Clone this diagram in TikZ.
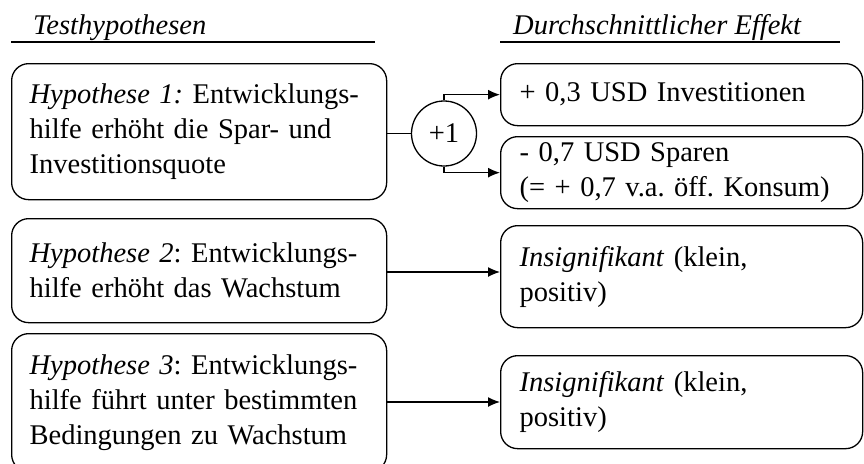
\documentclass[tikz,border=0pt]{standalone}
\usepackage{fontspec}
\setmainfont{Liberation Serif}
\usetikzlibrary{arrows.meta}
\frenchspacing
\tikzset{
  txt/.style={font=\fontsize{28.5}{35}\selectfont},
  lbox/.style={txt, draw, line width=1.3pt, rounded corners=17pt, anchor=north west,
    align=left, inner xsep=18pt, inner ysep=0pt, text width=339pt, minimum width=375pt},
  rbox/.style={txt, draw, line width=1.3pt, rounded corners=17pt, anchor=north west,
    align=left, inner xsep=19pt, inner ysep=0pt, text width=324pt, minimum width=362pt},
  conn/.style={line width=1.3pt},
  arr/.style={conn, -{Latex[length=12pt,width=10pt]}},
  head/.style={txt, anchor=base west, inner sep=0pt, font=\fontsize{28.5}{35}\selectfont\itshape},
}
\begin{document}
\begin{tikzpicture}[x=1pt,y=-1pt]
\useasboundingbox (0,0) rectangle (864,463);
% headers
\node[head] (h1) at (33,34) {Testhypothesen};
\node[head] (h2) at (513,34) {Durchschnittlicher Effekt};
\coordinate (l1a) at (11,42); \coordinate (l1b) at (375,42);
\coordinate (l2a) at (500,42); \coordinate (l2b) at (840,42);
\draw[conn] (l1a) -- (l1b);
\draw[conn] (l2a) -- (l2b);
% left boxes
\node[lbox, minimum height=136pt] (b1) at (11,63)
  {\mbox{\textit{Hypothese 1:} Entwicklungs-}\\\mbox{hilfe erhöht die Spar- und}\\\mbox{Investitionsquote}};
\node[lbox, minimum height=104pt] (b2) at (11,218)
  {\mbox{\textit{Hypothese 2}: Entwicklungs-}\\\mbox{hilfe erhöht das Wachstum}};
\node[lbox, minimum height=138pt] (b3) at (11,333)
  {\mbox{\textit{Hypothese 3}: Entwicklungs-}\\\mbox{hilfe führt unter bestimmten}\\\mbox{Bedingungen zu Wachstum}};
% right boxes
\node[rbox, minimum height=62pt] (r1a) at (500,63) {\mbox{+ 0,3 USD Investitionen}};
\node[rbox, minimum height=72pt] (r1b) at (500,136) {\mbox{- 0,7 USD Sparen}\\\mbox{(= + 0,7 v.a. öff. Konsum)}};
\node[rbox, minimum height=102pt] (r2) at (500,225) {\mbox{\textit{Insignifikant} (klein,}\\\mbox{positiv)}};
\node[rbox, minimum height=93pt] (r3) at (500,355) {\mbox{\textit{Insignifikant} (klein,}\\\mbox{positiv)}};
% circle
\node[txt, draw, circle, line width=1.3pt, minimum size=65pt, inner sep=0pt] (c) at (444,133.5) {+1};
% connectors
\draw[conn] (b1.east |- c) -- (c.west);
\draw[arr] (c.north) |- (r1a.west);
\draw[arr] (c.south) |- (r1b.west);
\coordinate (a2) at (386,272);
\coordinate (a3) at (386,402);
\draw[arr] (a2) -- (a2 -| r2.west);
\draw[arr] (a3) -- (a3 -| r3.west);
\end{tikzpicture}
\end{document}
